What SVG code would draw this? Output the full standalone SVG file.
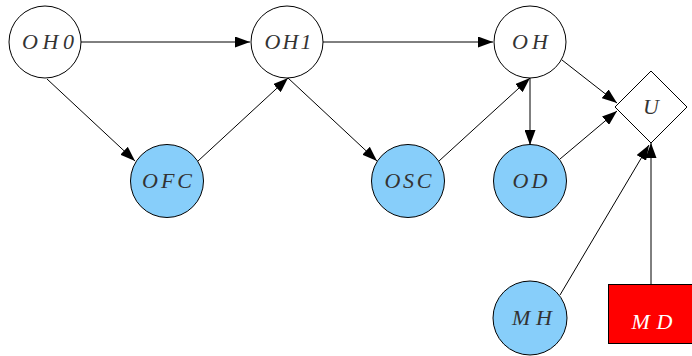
<svg xmlns="http://www.w3.org/2000/svg" width="692" height="356" viewBox="0 0 692 356">
<defs>
<style>
.n{fill:#fff;stroke:#000;stroke-width:1}
.b{fill:#87CEFA;stroke:#000;stroke-width:1}
.r{fill:#FF0000;stroke:#000;stroke-width:1}
.t{font-family:"Liberation Serif","DejaVu Serif",serif;font-style:italic;font-size:22px;fill:#333;text-anchor:middle}
.w{fill:#fff}
.e{stroke:#000;stroke-width:1;fill:none;marker-end:url(#ah)}
</style>
<marker id="ah" viewBox="0 0 15 11" refX="15" refY="5.5" markerWidth="15" markerHeight="11" markerUnits="userSpaceOnUse" orient="auto">
<path d="M0,0 L15,5.5 L0,11 Z" fill="#000"/>
</marker>
</defs>
<rect width="692" height="356" fill="#fff"/>
<g id="edges">
<line class="e" x1="81" y1="42" x2="250" y2="42"/>
<line class="e" x1="323" y1="42" x2="493" y2="42"/>
<line class="e" x1="47" y1="79" x2="135" y2="161"/>
<line class="e" x1="198" y1="161" x2="288" y2="78"/>
<line class="e" x1="288" y1="78" x2="377" y2="161"/>
<line class="e" x1="439" y1="161" x2="530" y2="78"/>
<line class="e" x1="530" y1="78" x2="530" y2="145"/>
<line class="e" x1="562" y1="60" x2="617" y2="103"/>
<line class="e" x1="560" y1="159" x2="617" y2="111"/>
<line class="e" x1="560" y1="295" x2="649" y2="145"/>
<line class="e" x1="651" y1="284" x2="651" y2="143"/>
</g>
<g id="OH0"><circle class="n" cx="45" cy="42" r="36"/><text class="t" x="48" y="49" textLength="52" lengthAdjust="spacing">OH0</text></g>
<g id="OH1"><circle class="n" cx="287" cy="42" r="36"/><text class="t" x="288" y="49" textLength="47" lengthAdjust="spacing">OH1</text></g>
<g id="OH"><circle class="n" cx="530" cy="42" r="36"/><text class="t" x="530" y="49" textLength="36" lengthAdjust="spacing">OH</text></g>
<g id="OFC"><circle class="b" cx="167" cy="181" r="36.5"/><text class="t" x="167" y="188" textLength="50" lengthAdjust="spacing">OFC</text></g>
<g id="OSC"><circle class="b" cx="408" cy="181" r="36.5"/><text class="t" x="408" y="188" textLength="47" lengthAdjust="spacing">OSC</text></g>
<g id="OD"><circle class="b" cx="530" cy="181" r="36.5"/><text class="t" x="530" y="188" textLength="35" lengthAdjust="spacing">OD</text></g>
<g id="MH"><circle class="b" cx="530" cy="318" r="37"/><text class="t" x="532" y="325" textLength="40" lengthAdjust="spacing">MH</text></g>
<g id="U"><polygon class="n" points="651,71 687,107 651,143 615,107"/><text class="t" x="651" y="114">U</text></g>
<g id="MD"><rect class="r" x="608.5" y="284.5" width="86" height="59"/><text class="t w" x="652" y="329" textLength="41" lengthAdjust="spacing">MD</text></g>
</svg>
